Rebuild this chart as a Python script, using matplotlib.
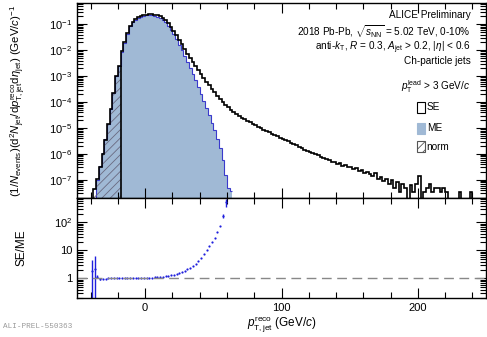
import numpy as np
import matplotlib
matplotlib.use("Agg")
import matplotlib.pyplot as plt
from matplotlib.ticker import MultipleLocator, FixedLocator, LogLocator, FuncFormatter, NullFormatter
from matplotlib.patches import Rectangle

plt.rcParams['font.family'] = ['Liberation Sans', 'DejaVu Sans']
plt.rcParams['mathtext.fontset'] = 'custom'
plt.rcParams['mathtext.rm'] = 'Liberation Sans'
plt.rcParams['mathtext.it'] = 'Liberation Sans:italic'
plt.rcParams['mathtext.bf'] = 'Liberation Sans:bold'
plt.rcParams['hatch.linewidth'] = 0.6

# 2 GeV/c bins, -40 .. 244
edges = np.arange(-40, 245, 2)

# same-event (SE) spectrum, log10 of bin content (None = empty bin)
se_log10 = [
    -7.8, -7.35, -6.95, -6.5, -6.0, -5.45, -4.85, -4.25, -3.65, -3.0,      # -39 .. -21
    -2.6, -2.05, -1.7, -1.35, -1.05, -0.9, -0.8, -0.73, -0.68, -0.65,      # -19 .. -1
    -0.63, -0.62, -0.62, -0.63, -0.66, -0.7, -0.76, -0.85, -0.97, -1.1,    # 1 .. 19
    -1.25, -1.42, -1.6, -1.78, -1.96, -2.13, -2.3, -2.46, -2.62, -2.78,    # 21 .. 39
    -2.93, -3.08, -3.22, -3.36, -3.5, -3.63, -3.76, -3.88, -4.0, -4.1,     # 41 .. 59
    -4.2, -4.3, -4.39, -4.47, -4.54, -4.6, -4.66, -4.72, -4.78, -4.84,     # 61 .. 79
    -4.9, -4.95, -5.0, -5.06, -5.11, -5.17, -5.22, -5.27, -5.32, -5.37,    # 81 .. 99
    -5.43, -5.47, -5.52, -5.57, -5.62, -5.66, -5.72, -5.78, -5.84, -5.87,  # 101 .. 119
    -5.93, -5.96, -6.02, -6.06, -6.12, -6.14, -6.2, -6.25, -6.3, -6.3,     # 121 .. 139
    -6.38, -6.36, -6.45, -6.42, -6.5, -6.52, -6.6, -6.55, -6.66, -6.63,    # 141 .. 159
    -6.72, -6.7, -6.78, -6.85, -6.75, -6.95, -6.9, -7.05, -6.95, -7.15,    # 161 .. 179
    -7.0, -7.3, -7.1, -7.45, -7.15, -7.3, None, -7.2, -7.45, -7.15,        # 181 .. 199
    -6.85, None, -7.45, -7.3, -7.15, -7.45, -7.3, -7.3, -7.45, -7.3,       # 201 .. 219
    -7.45, None, None, None, None, -7.45, None, None, None, -7.45,         # 221 .. 239
    None, None,                                                            # 241 .. 243
]

# SE/ME ratio, bins -40 .. 64
ratio = [
    1.8, 2.2, 1.15, 0.92, 0.95, 0.98, 1.0, 1.0, 1.0, 1.01,
    1.01, 1.02, 1.02, 1.02, 1.03, 1.03, 1.04, 1.04, 1.05, 1.05,
    1.06, 1.07, 1.08, 1.09, 1.1, 1.12, 1.15, 1.19, 1.24, 1.3,
    1.37, 1.45, 1.55, 1.7, 1.88, 2.1, 2.4, 2.8, 3.4, 4.3,
    5.6, 7.3, 10, 14, 20, 29, 45, 75, 170, 520,
    1300, 1400,
]
err_bins = [-39, -37, -35, -33, 57, 59]
err_lo = [1.65, 2.05, 0.12, 0.04, 20, 160]
err_hi = [2.9, 4.0, 0.15, 0.04, 25, 180]

norm_max = -18

se = np.array([0.0 if v is None else 10.0 ** v for v in se_log10])
ratio = np.array(ratio)
n_me = len(ratio)
me_edges = edges[:n_me + 1]
me = se[:n_me] / ratio
centers = 0.5 * (edges[:-1] + edges[1:])

fig = plt.figure(figsize=(4.87, 3.37), dpi=100)
ax1 = fig.add_axes([77 / 487, 1 - 198 / 337, 409 / 487, 195 / 337])
ax2 = fig.add_axes([77 / 487, 1 - 298 / 337, 409 / 487, 100 / 337], sharex=ax1)

me_color = '#a0b9d5'
ax1.stairs(me, me_edges, baseline=1e-10, fill=True, color=me_color, lw=0)
ax1.stairs(me, me_edges, baseline=None, color='#3a3acc', lw=0.8)

# normalisation region (hatched)
nmask = edges <= norm_max
n_edges = edges[nmask]
n_vals = se[:len(n_edges) - 1]
ax1.fill_between(n_edges, 1e-10, np.append(n_vals, n_vals[-1]), step='post',
                 facecolor='none', edgecolor='#6a6a80', hatch='////', lw=0)
ax1.vlines(norm_max, 1e-10, n_vals[-1], color='k', lw=1.2)

ax1.stairs(se, edges, baseline=None, color='k', lw=1.2)

ax1.set_yscale('log')
ax1.set_ylim(2e-8, 0.66)
ax1.set_xlim(-50, 250)

ax1.yaxis.set_major_locator(FixedLocator([1e-7, 1e-6, 1e-5, 1e-4, 1e-3, 1e-2, 1e-1]))
ax1.yaxis.set_major_formatter(FuncFormatter(lambda v, p: r'$10^{%d}$' % round(np.log10(v))))
ax1.yaxis.set_minor_locator(LogLocator(base=10, subs=np.arange(2, 10), numticks=30))
ax1.yaxis.set_minor_formatter(NullFormatter())
ax1.tick_params(axis='x', labelbottom=False)

ax1.set_ylabel(r'$(1/N_{\rm events})({\rm d}^2N_{\rm jet}/{\rm d}p^{\rm reco}_{\rm T,jet}{\rm d}\eta_{\rm jet})$ (GeV/$c$)$^{-1}$',
               fontsize=8.2)
ax1.yaxis.set_label_coords(-0.12, 0.5)

# ratio panel
ax2.plot(centers[:n_me], ratio, ls='none', marker='o', ms=1.6, color='#1f1fdd', mew=0)
e_idx = [int((b - edges[0]) // 2) for b in err_bins]
ax2.errorbar(centers[e_idx], ratio[e_idx], yerr=[err_lo, err_hi], ls='none',
             color='#1f1fdd', lw=1.0, capsize=0)
ax2.axhline(1, color='#888888', lw=1.0, dashes=(7, 4))
ax2.set_yscale('log')
ax2.set_ylim(0.2, 750)
ax2.yaxis.set_major_locator(FixedLocator([1, 10, 100]))
ax2.yaxis.set_major_formatter(FuncFormatter(lambda v, p: {1: '1', 10: '10', 100: r'$10^2$'}.get(round(v), '')))
ax2.yaxis.set_minor_locator(LogLocator(base=10, subs=np.arange(2, 10), numticks=30))
ax2.yaxis.set_minor_formatter(NullFormatter())
ax2.set_ylabel('SE/ME', fontsize=8.5)
ax2.yaxis.set_label_coords(-0.12, 0.5)
ax2.set_xlabel(r'$p^{\rm reco}_{\rm T,jet}$ (GeV/$c$)', fontsize=8.5, labelpad=1)

for ax in (ax1, ax2):
    ax.xaxis.set_major_locator(MultipleLocator(100))
    ax.xaxis.set_minor_locator(MultipleLocator(20))
    ax.tick_params(which='both', direction='in', top=True, right=True, labelsize=8, width=0.8)
    ax.tick_params(which='major', length=7)
    ax.tick_params(which='minor', length=4)
    for s in ax.spines.values():
        s.set_linewidth(1.0)

# text block
tx = 0.962
fs = 7.2
ax1.text(tx, 0.94, 'ALICE Preliminary', transform=ax1.transAxes, ha='right', va='center', fontsize=fs)
ax1.text(tx, 0.85, r'2018 Pb-Pb, $\sqrt{s_{\rm NN}}$ = 5.02 TeV, 0-10%', transform=ax1.transAxes,
         ha='right', va='center', fontsize=fs)
ax1.text(tx, 0.772, r'anti-$k_{\rm T}$, $R$ = 0.3, $A_{\rm jet}$ > 0.2, $|\eta|$ < 0.6', transform=ax1.transAxes,
         ha='right', va='center', fontsize=fs)
ax1.text(tx, 0.70, 'Ch-particle jets', transform=ax1.transAxes, ha='right', va='center', fontsize=fs)
ax1.text(tx, 0.571, r'$p_{\rm T}^{\rm lead}$ > 3 GeV/$c$', transform=ax1.transAxes, ha='right', va='center', fontsize=fs)

bx = (417 - 77) / 409
bw = 8 / 409
bh = 11 / 195
entries = [('SE', 0.465, dict(facecolor='white', edgecolor='k', hatch=None)),
           ('ME', 0.357, dict(facecolor=me_color, edgecolor=me_color, hatch=None)),
           ('norm', 0.264, dict(facecolor='white', edgecolor='#555555', hatch='////'))]
for lab, yc, st in entries:
    ax1.add_patch(Rectangle((bx, yc - bh / 2), bw, bh, transform=ax1.transAxes, lw=0.8,
                            clip_on=False, **st))
    ax1.text(bx + bw + 0.004, yc, lab, transform=ax1.transAxes, ha='left', va='center', fontsize=fs)

fig.text(3 / 487, 1 - 326 / 337, 'ALI-PREL-550363', fontsize=5.5, color='#999999',
         family='Liberation Mono', va='center', ha='left')

fig.savefig('out.png', dpi=100)
